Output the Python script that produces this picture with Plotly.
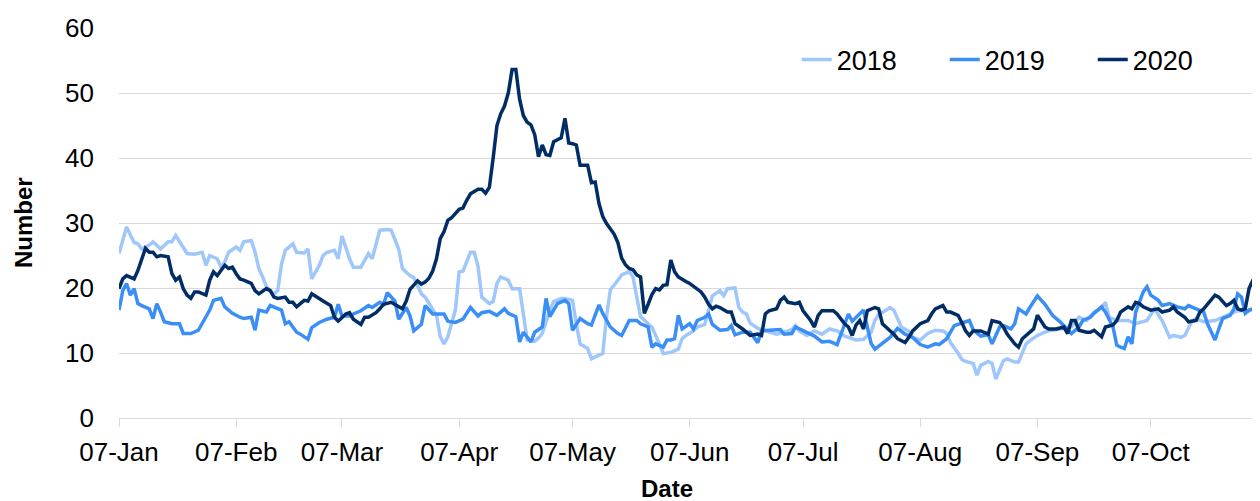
import pandas as pd
import plotly.graph_objects as go

# Days counted from 07-Jan
days_2018 = [0, 2, 4, 5, 6, 8, 9, 11, 13, 14, 15, 17, 18, 20, 22, 23, 24, 26, 27, 28, 29, 31, 32, 33, 35, 36, 37, 38, 39, 41, 42, 43, 44, 46, 47, 49, 50, 51, 53, 54, 55, 57, 58, 59, 61, 62, 64, 66, 67, 69, 71, 72, 74, 75, 77, 78, 80, 81, 82, 84, 85, 86, 87, 89, 90, 91, 93, 94, 95, 96, 98, 99, 100, 101, 103, 104, 106, 107, 108, 110, 111, 112, 114, 115, 117, 118, 120, 121, 122, 124, 125, 126, 128, 129, 130, 132, 133, 135, 136, 137, 138, 140, 141, 143, 144, 146, 148, 149, 150, 152, 153, 155, 156, 157, 159, 160, 161, 163, 164, 165, 166, 167, 169, 171, 172, 174, 176, 178, 179, 180, 182, 184, 186, 187, 188, 190, 192, 193, 195, 197, 199, 200, 201, 203, 204, 205, 207, 209, 210, 212, 214, 216, 218, 219, 220, 222, 223, 224, 226, 227, 228, 230, 231, 232, 234, 235, 237, 238, 240, 241, 243, 245, 246, 249, 252, 254, 256, 258, 260, 261, 262, 264, 267, 269, 272, 274, 276, 278, 279, 281, 282, 284, 285, 287, 289, 290, 292, 294, 296, 297, 299, 301]
vals_2018 = [25.3, 29.4, 27.0, 26.8, 26.0, 26.6, 27.1, 26.0, 27.1, 27.1, 28.1, 26.3, 25.3, 25.2, 25.5, 23.5, 25.0, 24.5, 23.2, 24.0, 25.5, 26.3, 25.8, 27.1, 27.3, 25.5, 23.0, 21.7, 20.2, 19.1, 19.6, 23.7, 25.8, 26.8, 25.5, 25.4, 26.0, 21.4, 23.5, 25.0, 25.5, 25.8, 24.5, 28.0, 24.5, 23.2, 23.2, 25.3, 24.5, 28.9, 29.0, 28.9, 26.0, 23.0, 21.9, 21.6, 19.1, 18.6, 17.6, 15.8, 12.5, 11.4, 12.5, 16.6, 22.5, 22.6, 25.5, 25.5, 23.3, 18.6, 17.6, 17.9, 20.7, 21.7, 21.2, 19.9, 19.9, 15.6, 12.0, 11.8, 12.3, 13.0, 16.6, 17.9, 18.4, 18.4, 18.1, 14.5, 11.4, 10.7, 9.1, 9.4, 9.9, 15.6, 19.7, 21.2, 22.0, 22.5, 21.7, 18.6, 15.6, 14.5, 14.0, 11.4, 9.9, 10.1, 10.6, 12.2, 12.7, 13.4, 14.0, 14.4, 16.6, 18.8, 19.6, 18.8, 19.9, 20.0, 17.0, 16.3, 16.0, 14.6, 13.8, 13.4, 13.2, 12.9, 13.2, 13.6, 14.2, 13.4, 12.7, 13.4, 12.9, 13.3, 13.7, 13.4, 12.6, 12.4, 12.0, 12.1, 13.2, 15.0, 15.9, 16.6, 17.0, 16.6, 14.0, 13.3, 12.4, 12.0, 13.0, 13.5, 13.4, 13.0, 11.6, 10.0, 9.0, 8.7, 8.4, 6.6, 8.1, 8.7, 8.4, 6.0, 8.8, 9.1, 8.6, 8.6, 11.4, 11.9, 12.7, 13.2, 13.4, 13.7, 14.0, 15.5, 15.0, 16.3, 17.0, 17.8, 15.5, 15.0, 15.0, 14.5, 15.0, 16.8, 15.0, 12.4, 12.7, 12.4, 12.7, 15.0, 15.3, 14.8, 15.0, 15.0, 15.5, 16.0, 16.5, 16.5, 16.5, 16.8]

days_2019 = [0, 1, 2, 3, 4, 5, 6, 8, 9, 10, 11, 12, 14, 16, 17, 19, 21, 22, 24, 25, 27, 28, 30, 32, 33, 35, 36, 37, 39, 40, 42, 43, 44, 45, 47, 48, 50, 51, 53, 55, 57, 58, 59, 61, 62, 64, 66, 67, 69, 70, 71, 73, 74, 76, 77, 78, 80, 81, 83, 84, 86, 87, 89, 91, 92, 93, 95, 96, 98, 100, 102, 103, 105, 106, 107, 109, 110, 112, 113, 114, 116, 118, 119, 120, 122, 124, 125, 127, 128, 130, 132, 133, 135, 137, 138, 140, 141, 142, 144, 145, 146, 147, 148, 149, 151, 152, 153, 155, 156, 157, 159, 161, 162, 163, 165, 167, 169, 170, 172, 175, 176, 178, 179, 182, 184, 186, 188, 190, 192, 193, 194, 196, 197, 198, 199, 200, 202, 204, 206, 208, 210, 212, 214, 216, 217, 219, 221, 223, 225, 226, 228, 230, 231, 233, 234, 236, 237, 238, 240, 241, 243, 245, 247, 249, 251, 252, 254, 255, 257, 258, 260, 261, 263, 264, 265, 266, 267, 268, 269, 271, 272, 273, 275, 276, 278, 280, 282, 283, 285, 287, 288, 290, 291, 292, 294, 295, 296, 297, 298, 299, 301]
vals_2019 = [16.6, 19.6, 20.7, 18.9, 19.9, 17.6, 17.3, 16.8, 15.3, 17.6, 16.3, 14.8, 14.5, 14.5, 13.0, 13.0, 13.5, 14.5, 16.6, 18.1, 18.4, 17.1, 16.1, 15.5, 15.3, 15.5, 13.5, 16.6, 16.3, 17.3, 16.8, 16.6, 14.5, 14.8, 13.2, 12.9, 12.1, 13.9, 14.7, 15.2, 15.5, 17.5, 15.7, 15.7, 16.0, 16.5, 17.3, 17.0, 17.8, 17.5, 19.3, 18.0, 15.2, 17.0, 15.7, 13.4, 14.4, 17.3, 16.0, 16.0, 16.0, 14.9, 14.7, 15.2, 16.0, 17.0, 15.7, 16.2, 16.4, 15.8, 16.8, 16.1, 15.6, 11.7, 13.2, 11.7, 13.2, 14.0, 18.4, 15.6, 17.6, 18.1, 17.6, 13.5, 15.3, 14.5, 14.3, 17.4, 16.1, 14.0, 13.0, 12.7, 15.0, 15.0, 14.5, 14.0, 10.9, 11.4, 10.9, 12.0, 12.0, 12.2, 15.8, 13.7, 14.5, 13.7, 15.0, 15.5, 16.0, 14.4, 13.5, 13.6, 14.2, 12.8, 13.2, 13.2, 11.6, 13.4, 13.5, 13.6, 12.9, 13.0, 14.0, 13.2, 12.6, 11.7, 11.8, 11.3, 14.5, 16.0, 14.9, 16.1, 16.6, 14.0, 11.5, 10.6, 11.5, 12.4, 13.8, 12.9, 12.4, 11.3, 10.9, 11.4, 11.3, 12.2, 14.2, 14.6, 15.0, 13.6, 12.6, 12.8, 11.4, 14.0, 14.2, 13.7, 14.5, 16.8, 16.0, 17.0, 18.8, 17.5, 15.8, 14.8, 13.5, 13.0, 14.0, 15.0, 15.5, 16.1, 17.1, 16.3, 14.0, 11.2, 10.9, 10.7, 12.5, 11.4, 16.3, 19.4, 20.2, 18.9, 18.1, 17.3, 17.6, 17.1, 16.8, 17.3, 16.8, 16.3, 14.5, 12.0, 13.7, 15.3, 15.8, 16.8, 19.1, 18.6, 16.1, 16.6, 17.0]

days_2020 = [0, 1, 2, 4, 5, 6, 7, 8, 9, 10, 11, 13, 14, 15, 16, 17, 18, 19, 20, 21, 23, 24, 25, 26, 28, 29, 30, 31, 32, 33, 35, 36, 37, 39, 40, 41, 42, 44, 45, 46, 47, 49, 50, 51, 53, 54, 56, 57, 58, 60, 61, 62, 64, 65, 66, 68, 69, 70, 72, 73, 75, 76, 77, 79, 80, 81, 82, 83, 84, 85, 86, 87, 88, 90, 91, 92, 93, 95, 96, 97, 98, 99, 100, 101, 102, 103, 104, 105, 106, 107, 108, 109, 110, 111, 112, 113, 114, 115, 116, 117, 118, 119, 120, 121, 122, 123, 124, 125, 126, 127, 128, 129, 130, 131, 132, 133, 134, 135, 136, 137, 138, 139, 140, 141, 142, 143, 144, 145, 146, 147, 148, 149, 150, 151, 152, 153, 154, 155, 156, 157, 158, 159, 160, 161, 162, 163, 165, 166, 167, 169, 170, 171, 172, 174, 175, 176, 177, 179, 180, 181, 183, 184, 185, 186, 188, 189, 190, 192, 193, 194, 195, 196, 197, 198, 200, 201, 202, 203, 205, 206, 208, 209, 210, 212, 214, 215, 216, 218, 219, 220, 222, 223, 224, 225, 226, 228, 230, 231, 233, 234, 235, 237, 238, 239, 241, 242, 243, 244, 245, 246, 248, 250, 251, 252, 253, 254, 256, 257, 258, 260, 261, 263, 264, 265, 267, 268, 269, 270, 271, 273, 275, 276, 278, 279, 280, 282, 283, 285, 286, 287, 289, 290, 291, 293, 294, 295, 296, 297, 298, 299, 300, 301, 302]
vals_2020 = [19.9, 21.4, 21.9, 21.4, 22.7, 24.3, 26.1, 25.5, 25.5, 24.8, 25.0, 24.8, 22.2, 21.2, 21.7, 19.9, 18.9, 18.4, 19.4, 19.4, 18.9, 21.2, 22.5, 21.9, 23.5, 23.0, 23.2, 22.2, 21.4, 21.2, 20.7, 19.6, 19.1, 19.9, 19.6, 18.6, 18.4, 18.6, 17.8, 17.8, 17.1, 18.1, 18.0, 19.1, 18.3, 18.0, 17.3, 15.5, 14.9, 16.0, 16.2, 15.2, 14.4, 15.5, 15.5, 16.2, 16.8, 17.5, 17.8, 17.5, 16.8, 18.0, 19.8, 21.1, 20.6, 20.9, 21.5, 22.6, 24.5, 27.6, 28.7, 30.4, 30.8, 32.1, 32.3, 33.5, 34.5, 35.2, 35.2, 34.6, 35.5, 40.0, 45.0, 46.8, 48.0, 50.0, 53.6, 53.6, 49.0, 46.5, 45.5, 45.1, 43.6, 40.2, 42.0, 40.5, 40.4, 42.5, 42.8, 43.1, 46.1, 42.3, 42.2, 42.0, 38.9, 38.9, 38.9, 36.2, 36.3, 33.0, 31.0, 29.9, 29.0, 28.3, 27.0, 24.6, 23.6, 23.0, 22.8, 22.0, 21.7, 16.1, 17.5, 19.0, 19.9, 19.7, 20.4, 20.5, 24.3, 22.5, 21.7, 21.3, 21.0, 20.7, 20.3, 19.9, 19.4, 18.6, 17.5, 16.8, 17.2, 17.0, 16.6, 16.3, 16.3, 14.5, 13.7, 13.2, 12.7, 12.9, 12.7, 16.0, 16.5, 16.8, 18.1, 18.6, 17.8, 17.6, 17.8, 16.5, 15.0, 14.0, 15.8, 16.5, 16.5, 16.5, 16.0, 14.5, 14.0, 12.7, 14.3, 15.0, 13.7, 16.5, 17.0, 16.8, 14.5, 14.0, 12.9, 12.2, 11.6, 12.4, 13.4, 14.5, 15.0, 16.0, 16.8, 17.3, 16.3, 16.3, 15.8, 14.7, 13.4, 12.7, 13.4, 13.4, 12.9, 15.0, 14.7, 14.0, 12.9, 11.4, 10.9, 12.2, 13.2, 13.7, 15.8, 15.0, 14.0, 13.7, 13.7, 14.0, 13.0, 15.0, 15.0, 13.5, 13.2, 13.2, 13.5, 12.5, 14.0, 14.3, 15.0, 16.3, 17.1, 16.8, 17.8, 17.6, 17.1, 16.6, 16.8, 16.3, 16.6, 17.1, 16.3, 15.5, 14.8, 15.0, 16.3, 16.8, 18.1, 18.9, 18.6, 17.3, 17.6, 18.1, 16.8, 16.6, 16.8, 19.9, 21.2, 21.7, 24.8]

series_names = ["2018", "2019", "2020"]
series_colors = ["#9fc7fb", "#3a8ef6", "#002d66"]
y_ticks = [0, 10, 20, 30, 40, 50, 60]

base = pd.Timestamp("2018-01-07")
def to_dates(days):
    return [base + pd.Timedelta(days=d) for d in days]

fig = go.Figure()
for name, color, d, v in zip(series_names, series_colors,
                             [days_2018, days_2019, days_2020],
                             [vals_2018, vals_2019, vals_2020]):
    fig.add_trace(go.Scatter(x=to_dates(d), y=v, mode="lines", name=name,
                             line=dict(color=color, width=3.5)))

# page body has an 8px margin, so the figure is sized to fit the viewport
font_family = "Liberation Sans, Arial, sans-serif"
fig.update_layout(
    width=1252, height=493,
    margin=dict(l=111, r=0, t=20, b=83, autoexpand=False),
    paper_bgcolor="white", plot_bgcolor="white",
    font=dict(family=font_family, size=26, color="#000000"),
    showlegend=True,
    legend=dict(orientation="h", x=0.594, xanchor="left", y=0.918, yanchor="middle",
                font=dict(size=27), bgcolor="rgba(0,0,0,0)",
                entrywidth=103, entrywidthmode="pixels"),
    annotations=[
        dict(text="<b>Date</b>", xref="paper", yref="paper",
             x=(667 - 119) / 1141, y=-(488 - 418) / 390,
             xanchor="center", yanchor="middle", showarrow=False,
             font=dict(size=24)),
        dict(text="<b>Number</b>", xref="paper", yref="paper",
             x=-(119 - 23) / 1141, y=0.5, textangle=-90,
             xanchor="center", yanchor="middle", showarrow=False,
             font=dict(size=24)),
    ],
)
fig.update_xaxes(
    type="date", automargin=False,
    range=[base, base + pd.Timedelta(days=301.9)],
    tick0="2018-01-07", dtick="M1", tickformat="%d-%b",
    showgrid=False, showline=True, linecolor="#d9d9d9", linewidth=1,
    ticks="outside", ticklen=8, tickcolor="#d9d9d9",
    ticklabelstandoff=3,
    tickfont=dict(size=26),
)
fig.update_yaxes(
    range=[0, 60], tickvals=y_ticks, automargin=False,
    showgrid=True, gridcolor="#d9d9d9", gridwidth=1,
    zeroline=False, showline=False, ticks="",
    ticklabelstandoff=24,
    tickfont=dict(size=26),
)

fig.write_html("out.html")
